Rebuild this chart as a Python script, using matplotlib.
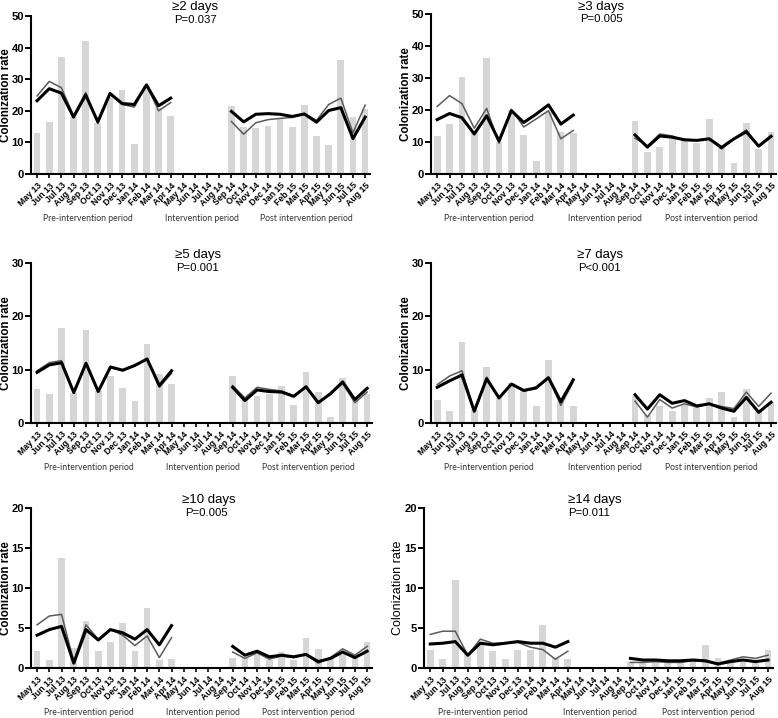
"""Colonization rate per month, pre / intervention / post periods, six duration thresholds."""

import numpy as np
import matplotlib
matplotlib.use("Agg")
import matplotlib.pyplot as plt

MONTHS = ["May 13", "Jun 13", "Jul 13", "Aug 13", "Sep 13", "Oct 13", "Nov 13",
          "Dec 13", "Jan 14", "Feb 14", "Mar 14", "Apr 14", "May 14", "Jun 14",
          "Jul 14", "Aug 14", "Sep 14", "Oct 14", "Nov 14", "Dec 14", "Jan 15",
          "Feb 15", "Mar 15", "Apr 15", "May 15", "Jun 15", "Jul 15", "Aug 15"]
GAP = [None] * 4  # intervention months, no data

# >=2 days
bars_2 = [13, 16.6, 37.1, 18, 42.2, 16, 24.5, 26.7, 9.5, 28, 21, 18.2] + GAP + \
         [21.6, 15.0, 14.5, 15.3, 17.4, 14.9, 21.9, 11.9, 9.2, 36.0, 18.0, 20.6]
thin_2 = [24.7, 29.3, 27.3, 18.5, 25.8, 16, 25.3, 22, 21.2, 28.2, 20, 22.6] + GAP + \
         [16.6, 12.6, 16.2, 17.2, 17.6, 17.9, 19.1, 17, 22, 24, 13, 21.8]
thick_2 = [23.2, 27, 25.6, 18, 25, 16.5, 25.5, 22.3, 22, 28.2, 21.6, 24] + GAP + \
          [19.8, 16.5, 18.9, 19.1, 18.9, 18.2, 19, 16.4, 20.1, 21, 11.2, 18]

# >=3 days
bars_3 = [11.8, 15.6, 30.2, 13.5, 36.3, 10, 20, 12.2, 4.2, 19.5, 13, 12.9] + GAP + \
         [16.6, 6.9, 8.4, 11, 10.5, 9.6, 17.2, 8, 3.4, 15.9, 7.7, 13]
thin_3 = [21.1, 24.5, 22, 14.3, 20.5, 9.6, 20.2, 14.7, 17.2, 19.8, 11, 13.6] + GAP + \
         [11.2, 8.8, 12.5, 11.9, 10.5, 10.6, 10.9, 7.8, 11, 13.8, 8.6, 11.5]
thick_3 = [17, 18.9, 17.6, 12.5, 18.2, 10.3, 19.8, 16.1, 18.7, 21.6, 15.6, 18.4] + GAP + \
          [12.2, 8.4, 11.9, 11.5, 10.7, 10.5, 11, 8.3, 11, 13.2, 8.7, 11.8]

# >=5 days
bars_5 = [6.4, 5.4, 17.8, 5.7, 17.5, 6, 8.8, 6.6, 4.2, 14.8, 9.1, 7.4] + GAP + \
         [8.9, 4.5, 5.1, 5.4, 7.0, 3.3, 9.5, 5.9, 1.1, 8.5, 4.5, 5.4]
thin_5 = [9.8, 11.3, 11.7, 5.7, 11.2, 6.0, 10.4, 9.8, 10.7, 12, 6.7, 9.3] + GAP + \
         [7.0, 4.7, 6.7, 6.3, 6.0, 5.1, 6.8, 3.9, 5.4, 7.4, 3.8, 5.8]
thick_5 = [9.5, 10.9, 11.3, 5.7, 11.2, 5.9, 10.5, 9.9, 10.8, 12, 7, 9.8] + GAP + \
          [6.7, 4.2, 6.2, 5.9, 5.8, 5.0, 6.8, 3.8, 5.5, 7.7, 4.4, 6.5]

# >=7 days
bars_7 = [4.3, 2.2, 15.1, 2.5, 10.5, 4.7, 7.5, 6.2, 3.1, 11.75, 4, 3.2] + GAP + \
         [5, 1.5, 3.1, 2.2, 3.5, 3, 4.75, 5.9, 1.1, 6.4, 2, 4]
thin_7 = [7.2, 8.8, 9.8, 2.4, 8.6, 4.7, 7.3, 6.0, 6.4, 8.4, 3.3, 7.7] + GAP + \
         [4.1, 1.1, 4.4, 2.8, 3.6, 3.0, 3.6, 3.1, 2.7, 5.8, 3.1, 5.6]
thick_7 = [6.7, 7.9, 9.0, 2.2, 8.3, 4.7, 7.3, 6.1, 6.6, 8.5, 4.0, 8.1] + GAP + \
          [5.3, 2.6, 5.3, 3.7, 4.2, 3.2, 3.6, 2.8, 2.2, 4.8, 2.0, 3.9]

# >=10 days
bars_10 = [2.1, 1.0, 13.8, 2.5, 5.85, 2.1, 3.3, 5.6, 2.1, 7.5, 1.0, 1.1] + GAP + \
          [1.25, 1.2, 1.9, 1.0, 2.0, 1.0, 3.8, 2.4, 1.2, 2.0, 1.3, 3.2]
thin_10 = [5.4, 6.5, 6.7, 0.8, 5.4, 3.6, 4.8, 4.1, 2.8, 4.0, 1.3, 3.8] + GAP + \
          [2.0, 1.2, 1.9, 1.1, 1.5, 1.3, 1.7, 0.6, 1.3, 2.4, 1.6, 2.7]
thick_10 = [4.1, 4.8, 5.2, 0.6, 4.8, 3.5, 4.8, 4.4, 3.6, 4.8, 2.9, 5.3] + GAP + \
           [2.7, 1.6, 2.1, 1.4, 1.6, 1.4, 1.7, 0.8, 1.2, 2.0, 1.3, 2.1]

# >=14 days
bars_14 = [2.2, 1.1, 11.0, 1.8, 3.0, 2.1, 1.1, 2.2, 2.2, 5.35, 1.2, 1.1] + GAP + \
          [0.7, 0.7, 0.9, 0.6, 0.8, 1.0, 2.9, 1.25, 0.8, 1.1, 0.8, 2.2]
thin_14 = [4.2, 4.6, 4.6, 1.6, 3.6, 3.1, 3.1, 3.2, 2.6, 2.3, 1.1, 2.1] + GAP + \
          [0.7, 0.7, 0.8, 0.7, 0.7, 0.9, 0.8, 0.6, 1.0, 1.4, 1.2, 1.6]
thick_14 = [3.0, 3.1, 3.3, 1.6, 3.1, 2.9, 3.1, 3.3, 3.1, 3.1, 2.6, 3.3] + GAP + \
           [1.2, 1.0, 1.0, 0.9, 0.9, 1.0, 0.9, 0.5, 0.8, 1.0, 0.8, 1.0]

TITLES = ["\u22652 days", "\u22653 days", "\u22655 days",
          "\u22657 days", "\u226510 days", "\u226514 days"]
PVALS = ["P=0.037", "P=0.005", "P=0.001", "P<0.001", "P=0.005", "P=0.011"]
PERIODS = ["Pre-intervention period", "Intervention period", "Post intervention period"]
PERIOD_X = [4.2, 13.6, 22.2]

W, H = 778, 718
# axes boxes in pixels: left, right, top, bottom
BOXES = [(31, 370, 16, 174), (431, 776, 14, 174),
         (31, 372, 263, 423), (431, 776, 263, 423),
         (31, 372, 508, 668), (424, 773, 508, 668)]
YLABEL_X = [6, 406, 6, 406, 6, 398]
YLABEL_BOLD = [True, True, True, True, True, False]
YMAX = [50, 50, 30, 30, 20, 20]
YSTEP = [10, 10, 10, 10, 5, 5]
# pixel position of the two title lines: left x / centre y of first line, then of P line
TITLE_POS = [(172, 7, 174, 20), (578, 7, 580, 19), (175, 255, 176, 268),
             (577, 255, 578, 268), (182, 500, 185, 513), (568, 500, 568, 513)]

BARS = [bars_2, bars_3, bars_5, bars_7, bars_10, bars_14]
THIN = [thin_2, thin_3, thin_5, thin_7, thin_10, thin_14]
THICK = [thick_2, thick_3, thick_5, thick_7, thick_10, thick_14]

plt.rcParams["font.family"] = ["Liberation Sans", "DejaVu Sans"]


def arr(v):
    return np.array([np.nan if x is None else x for x in v], dtype=float)


fig = plt.figure(figsize=(W / 100, H / 100), dpi=100)
x = np.arange(len(MONTHS))

for i in range(6):
    l, r, t, b = BOXES[i]
    ax = fig.add_axes([l / W, 1 - b / H, (r - l) / W, (b - t) / H])
    bars = arr(BARS[i])
    ax.bar(x, np.nan_to_num(bars), width=0.55, color="#d6d6d6", zorder=1)
    ax.plot(x, arr(THIN[i]), color="#5a5a5a", lw=1.1, zorder=2)
    ax.plot(x, arr(THICK[i]), color="black", lw=2.2, zorder=3)

    ax.set_xlim(-0.5, 27.4)
    ax.set_ylim(0, YMAX[i])
    ax.set_yticks(np.arange(0, YMAX[i] + 1, YSTEP[i]))
    ax.set_xticks(x)
    ax.set_xticklabels(MONTHS, rotation=45, ha="right", rotation_mode="anchor",
                       fontsize=6.3, fontweight="bold")
    for lab in ax.get_yticklabels():
        lab.set_fontweight("bold")
        lab.set_fontsize(8)
    ax.tick_params(axis="y", direction="out", length=4, width=1.4, pad=1)
    ax.tick_params(axis="x", direction="out", length=3, width=1.2, pad=2)
    for s in ("top", "right"):
        ax.spines[s].set_visible(False)
    for s in ("left", "bottom"):
        ax.spines[s].set_linewidth(1.5)
    if YLABEL_BOLD[i]:
        ax.set_ylabel("Colonization rate", fontsize=8.3, fontweight="bold", va="center")
    else:
        ax.set_ylabel("Colonization rate", fontsize=9, va="center")
    ax.yaxis.set_label_coords((YLABEL_X[i] - l) / (r - l), 0.5)

    for px, name in zip(PERIOD_X, PERIODS):
        ax.annotate(name, xy=(px, 0), xycoords=("data", "axes fraction"),
                    xytext=(0, -32), textcoords="offset points",
                    ha="center", va="center", fontsize=6.2, color="#333333",
                    family=["Lato", "DejaVu Sans"])

    tx, ty, px2, py2 = TITLE_POS[i]
    fig.text(tx / W, 1 - ty / H, TITLES[i], ha="left", va="center", fontsize=9.5)
    fig.text(px2 / W, 1 - py2 / H, PVALS[i], ha="left", va="center", fontsize=8.2)

fig.savefig("out.png", dpi=100)
